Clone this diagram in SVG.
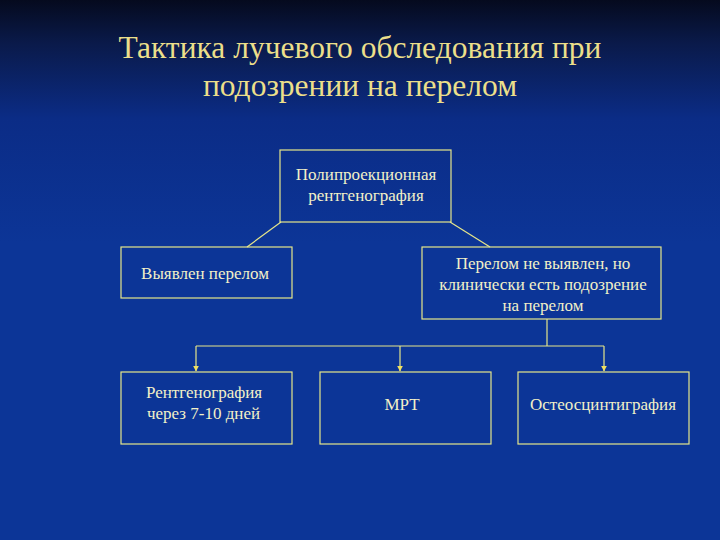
<svg xmlns="http://www.w3.org/2000/svg" width="720" height="540" viewBox="0 0 720 540">
<defs>
<linearGradient id="bg" x1="0" y1="0" x2="0" y2="1">
<stop offset="0" stop-color="#050a1e"/>
<stop offset="0.08" stop-color="#0a1a4a"/>
<stop offset="0.22" stop-color="#0b2c86"/>
<stop offset="0.45" stop-color="#0c3597"/>
<stop offset="1" stop-color="#0c3597"/>
</linearGradient>
<marker id="arr" viewBox="0 0 10 10" refX="9" refY="5" markerWidth="5" markerHeight="5" orient="auto">
<path d="M0,0 L10,5 L0,10 z" fill="#f0e060"/>
</marker>
<style>
.box{fill:none;stroke:#e6e68a;stroke-width:1.2}
.t{font-family:"Liberation Serif",serif;font-size:17px;fill:#f2f0c8;text-anchor:middle}
.tl{font-family:"Liberation Serif",serif;font-size:17px;fill:#f2f0c8}
.title{font-family:"Liberation Serif",serif;font-size:31.5px;fill:#ecdf8a;text-anchor:middle}
.c{stroke:#e6e68a;stroke-width:1.2;fill:none}
</style>
</defs>
<rect width="720" height="540" fill="url(#bg)"/>
<text class="title" x="360" y="58">Тактика лучевого обследования при</text>
<text class="title" x="360" y="96">подозрении на перелом</text>
<g id="connectors">
<line class="c" x1="281" y1="222" x2="247" y2="247"/>
<line class="c" x1="450" y1="222" x2="490" y2="247"/>
<line class="c" x1="547" y1="319" x2="547" y2="346"/>
<line class="c" x1="196" y1="346" x2="604" y2="346"/>
<line class="c" x1="196" y1="346" x2="196" y2="371" marker-end="url(#arr)"/>
<line class="c" x1="400" y1="346" x2="400" y2="371" marker-end="url(#arr)" stroke-width="2"/>
<line class="c" x1="604" y1="346" x2="604" y2="371" marker-end="url(#arr)" stroke-width="2"/>
</g>
<g id="n1">
<rect class="box" x="280" y="150" width="171" height="72"/>
<text class="t" x="366" y="180">Полипроекционная</text>
<text class="t" x="366" y="201">рентгенография</text>
</g>
<g id="n2">
<rect class="box" x="121" y="247" width="171" height="51"/>
<text class="t" x="205" y="279">Выявлен перелом</text>
</g>
<g id="n3">
<rect class="box" x="422" y="247" width="239" height="72"/>
<text class="t" x="543" y="269">Перелом не выявлен, но</text>
<text class="t" x="543" y="290">клинически есть подозрение</text>
<text class="t" x="543" y="311">на перелом</text>
</g>
<g id="n4">
<rect class="box" x="121" y="372" width="171" height="72"/>
<text class="tl" x="146" y="398">Рентгенография</text>
<text class="tl" x="147" y="419">через 7-10 дней</text>
</g>
<g id="n5">
<rect class="box" x="320" y="372" width="171" height="72"/>
<text class="t" x="402" y="410">МРТ</text>
</g>
<g id="n6">
<rect class="box" x="518" y="372" width="171" height="72"/>
<text class="t" x="603" y="410">Остеосцинтиграфия</text>
</g>
</svg>
